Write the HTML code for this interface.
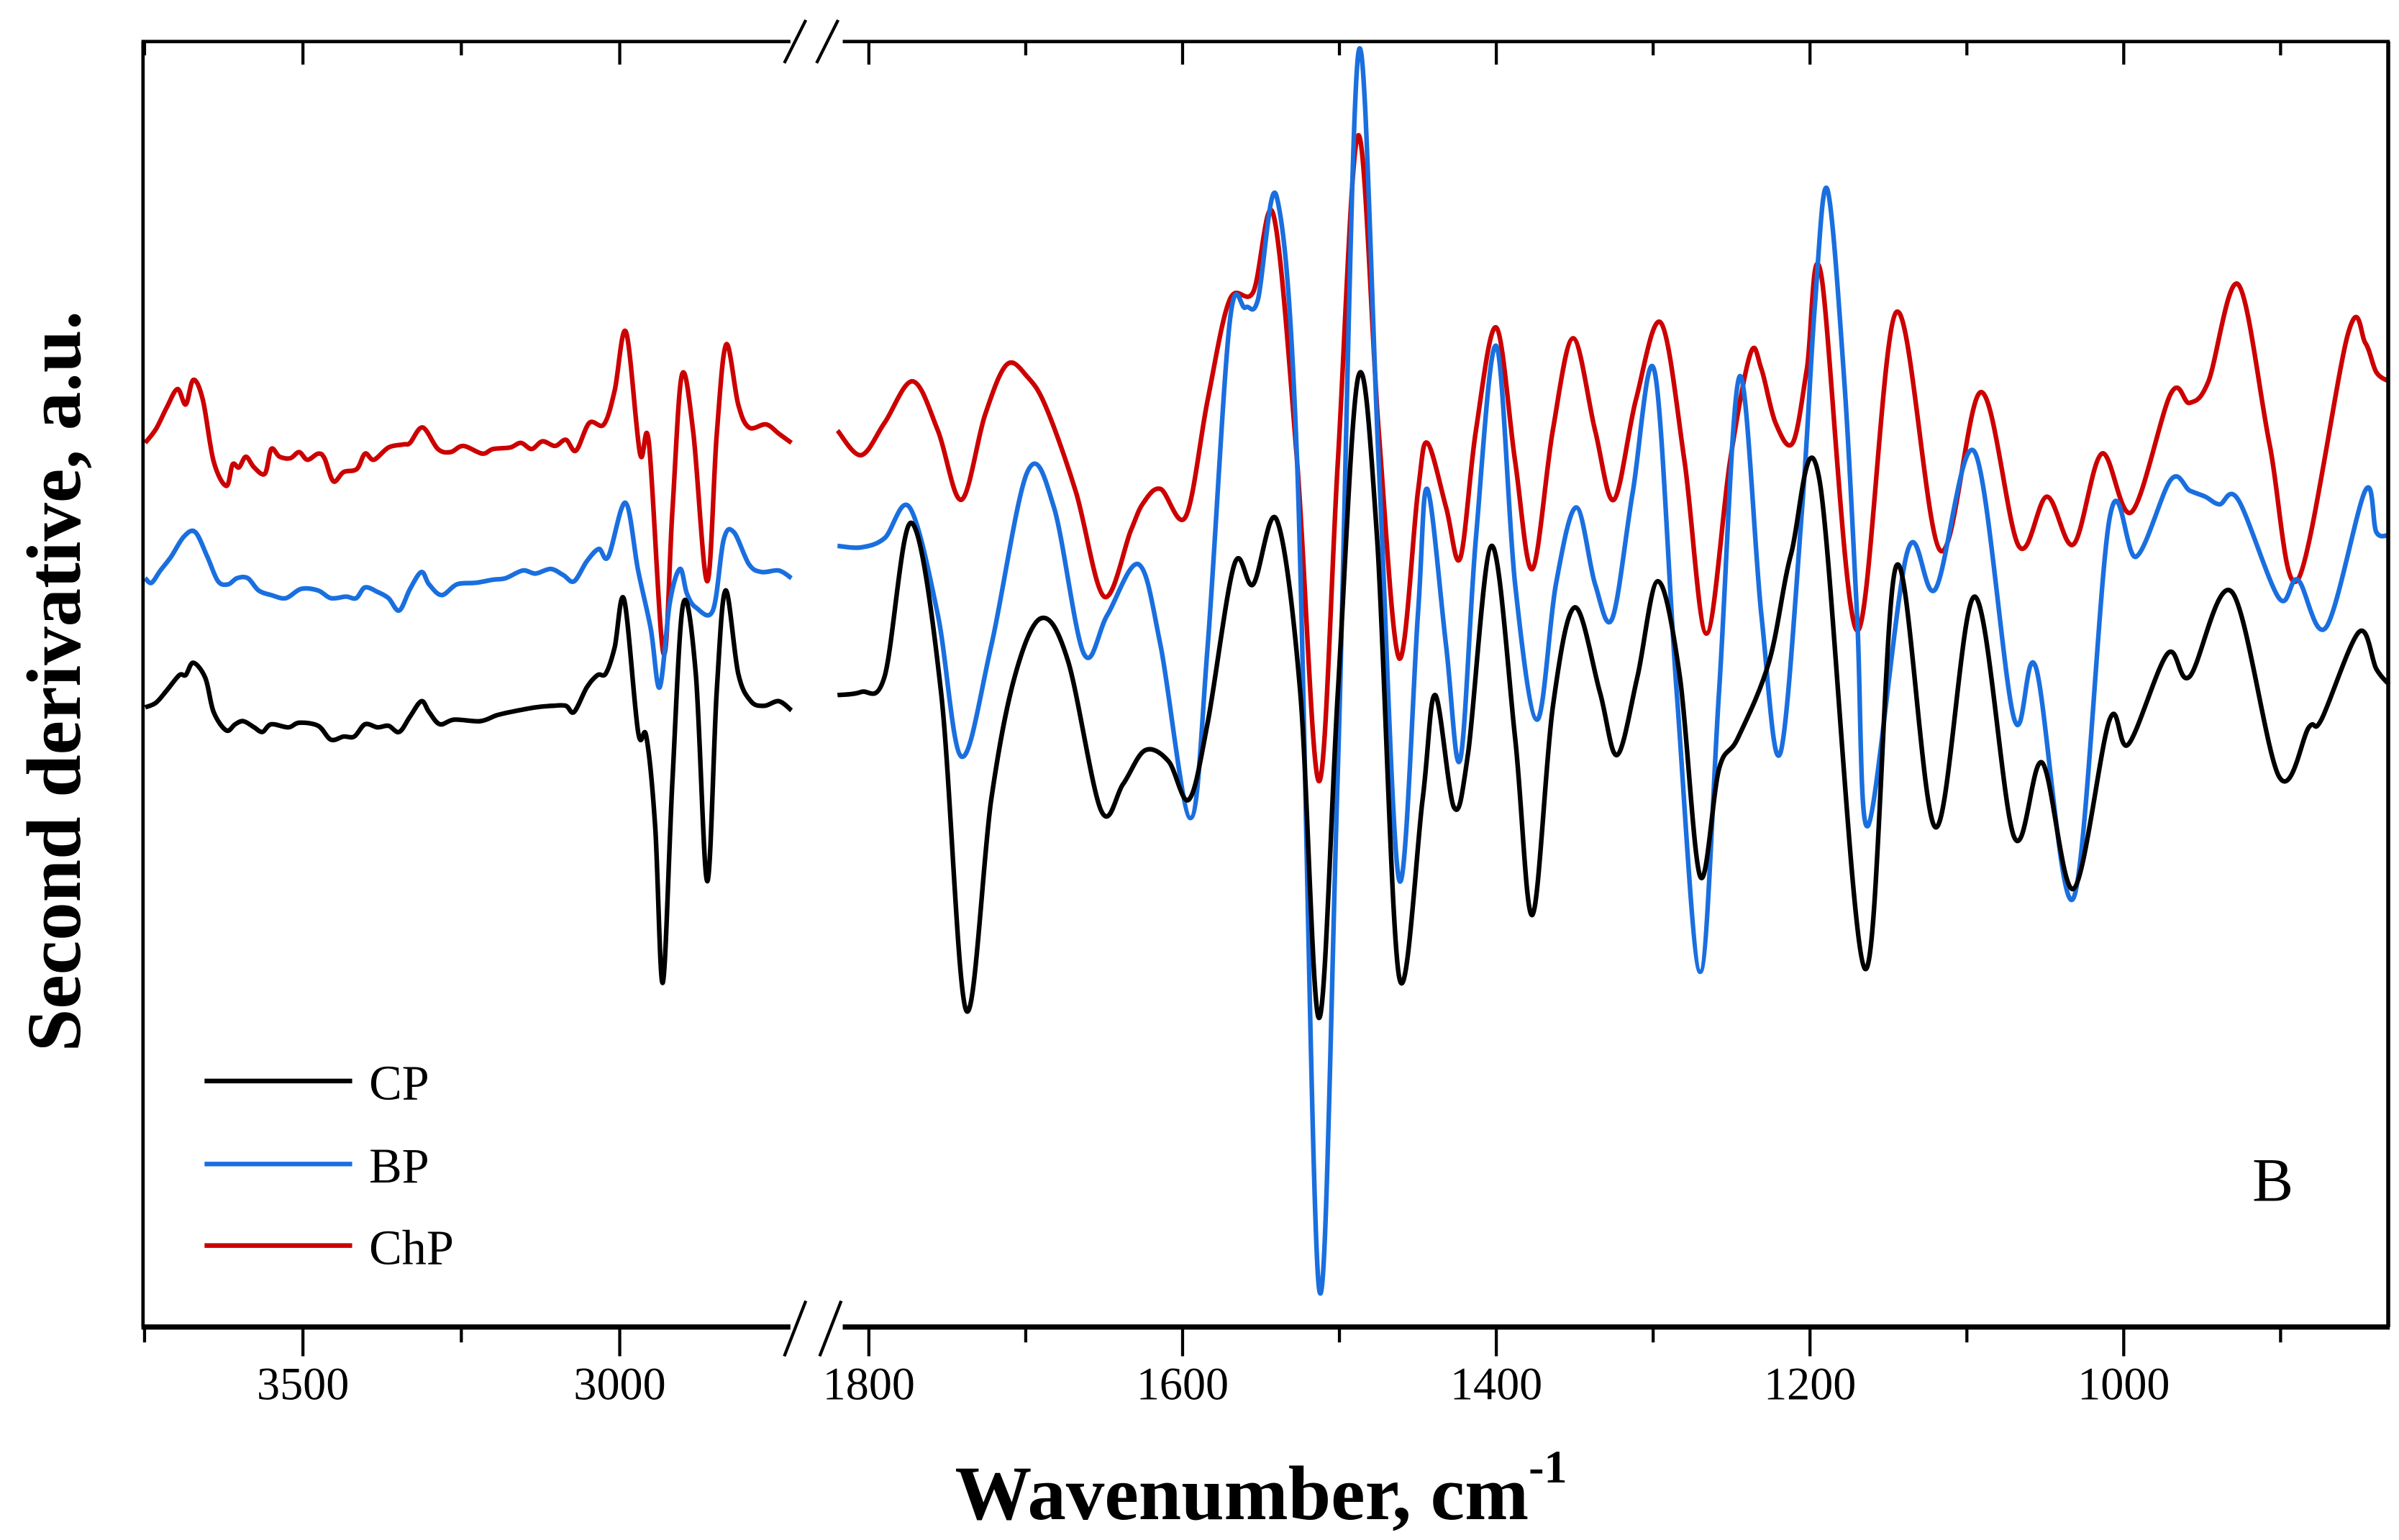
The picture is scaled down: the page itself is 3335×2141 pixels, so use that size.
<!DOCTYPE html>
<html><head><meta charset="utf-8">
<style>
html,body{margin:0;padding:0;background:#fff;}
svg{display:block;}
text{font-family:"Liberation Serif",serif;}
</style></head>
<body>
<svg id="chart" width="3335" height="2141" viewBox="0 0 1560 1001.5" preserveAspectRatio="none" xmlns="http://www.w3.org/2000/svg">
<g id="plot"></g>
<g id="axes"></g>
<text x="0" y="0" transform="translate(52,443) rotate(-90)" text-anchor="middle" font-size="50" font-weight="bold">Second derivative, a.u.</text>
<text x="820" y="988" text-anchor="middle" font-size="50" font-weight="bold">Wavenumber, cm<tspan font-size="30" dy="-24">-1</tspan></text>
<text x="1478" y="781" text-anchor="middle" font-size="40">B</text>
<g>
<line x1="133" y1="703" x2="229" y2="703" stroke="#000" stroke-width="3"/>
<text x="240" y="715" font-size="32">CP</text>
<line x1="133" y1="757" x2="229" y2="757" stroke="#1a6fdf" stroke-width="3"/>
<text x="240" y="769" font-size="32">BP</text>
<line x1="133" y1="810" x2="229" y2="810" stroke="#cc0000" stroke-width="3"/>
<text x="240" y="822" font-size="32">ChP</text>
</g>
</svg>
<script>
// ---- data (wavenumber cm-1, second derivative a.u.) ----
const cpLeftWn = [3749,3732,3715,3695,3685,3673,3654,3641,3621,3607,3594,3577,3564,3550,3523,3506,3476,3456,3436,3419,3402,3382,3365,3348,3331,3313,3301,3284,3261,3220,3193,3160,3133,3106,3085,3072,3052,3035,3022,3008,2993,2971,2958,2944,2932,2917,2900,2880,2862,2847,2833,2813,2793,2772,2749,2729];
const cpLeftVal = [403,406,414,424,424,432,422,400,388,392,394,390,387,392,390,393,391,382,384,384,392,390,391,387,397,407,400,392,395,394,398,401,403,404,404,400,416,424,425,442,473,387,384,325,224,354,470,425,290,413,479,425,407,404,407,401];
const bpLeftWn = [3749,3739,3725,3708,3688,3670,3651,3634,3618,3604,3587,3570,3550,3527,3503,3476,3456,3432,3416,3402,3382,3365,3348,3331,3313,3301,3281,3257,3227,3200,3180,3153,3133,3109,3089,3072,3052,3033,3018,2991,2971,2951,2937,2921,2905,2894,2880,2853,2836,2820,2796,2776,2749,2729];
const bpLeftVal = [487,484,492,501,514,517,501,485,483,487,487,479,476,474,480,479,474,475,474,481,478,474,466,480,491,483,476,483,484,486,487,492,490,493,489,485,498,506,501,536,492,454,416,471,493,477,468,466,512,517,496,491,492,487];
const chpLeftWn = [3749,3732,3715,3698,3685,3673,3658,3641,3621,3611,3601,3590,3577,3560,3550,3537,3520,3506,3493,3476,3466,3452,3436,3415,3402,3388,3365,3341,3331,3311,3287,3267,3247,3217,3200,3173,3156,3139,3122,3102,3085,3069,3048,3025,3008,2990,2968,2954,2931,2917,2902,2884,2862,2847,2832,2813,2796,2769,2749,2729];
const chpLeftVal = [575,584,598,610,600,616,603,563,547,561,559,566,559,555,571,566,565,569,564,568,565,550,556,558,568,564,572,574,575,585,571,569,573,568,571,572,575,571,576,573,577,570,588,587,609,647,568,575,438,530,619,582,485,580,639,600,585,587,581,575];

const cpRightWn = [1820,1805,1790,1773,1754,1738,1722,1707,1690,1673,1652,1638,1624,1609,1596,1584,1567,1555,1540,1525,1513,1501,1488,1476,1462,1447,1439,1427,1418,1403,1388,1377,1364,1350,1334,1323,1310,1297,1283,1270,1258,1246,1226,1212,1194,1165,1145,1120,1095,1070,1052,1032,1009,997,972,958,931,901,882,874,850,839,831];
const cpRightVal = [411,413,423,523,413,206,343,423,461,433,336,353,375,368,343,393,496,483,525,413,201,413,618,513,228,343,411,338,373,508,383,268,403,468,413,372,423,485,423,293,363,383,433,503,551,233,495,325,475,319,367,285,395,379,438,423,478,358,390,395,452,428,418];
const bpRightWn = [1820,1805,1790,1774,1756,1741,1722,1699,1682,1663,1648,1628,1614,1595,1584,1570,1560,1552,1540,1527,1513,1501,1488,1475,1462,1450,1444,1432,1423,1413,1400,1388,1374,1362,1349,1337,1326,1313,1299,1285,1270,1258,1245,1231,1219,1205,1197,1189,1178,1170,1163,1138,1120,1095,1070,1056,1032,1009,992,970,958,948,939,927,901,889,871,846,839,831];
const bpRightVal = [508,507,513,533,463,371,443,556,533,438,463,496,443,331,443,653,663,668,735,563,25,363,828,563,291,463,545,443,369,513,638,483,395,483,533,483,461,543,621,413,231,413,618,463,373,533,663,740,613,463,326,504,480,569,396,429,279,526,501,551,544,540,535,538,474,486,455,544,517,515];
const chpRightWn = [1820,1805,1790,1772,1756,1741,1726,1712,1699,1687,1668,1650,1633,1625,1614,1598,1584,1570,1555,1542,1527,1513,1501,1488,1475,1462,1450,1444,1432,1423,1413,1400,1388,1377,1364,1351,1337,1325,1311,1295,1280,1266,1251,1238,1231,1222,1211,1202,1193,1170,1145,1117,1091,1067,1049,1032,1014,995,970,958,946,927,907,889,857,846,839,831];
const chpRightVal = [583,567,588,615,583,538,593,626,618,598,543,475,518,536,545,527,603,668,673,723,563,355,563,775,583,435,543,575,533,500,583,650,563,493,583,643,583,538,603,653,563,451,563,633,623,588,575,623,685,453,660,505,608,508,540,509,568,530,607,601,615,678,574,486,646,640,621,615];

const leftTicks = [3500,3000];
const leftMinor = [3750,3250];
const rightTicks = [1800,1600,1400,1200,1000];
const rightMinor = [1700,1500,1300,1100,900];

// ---- axis functions (SVG units: 1560 x 1001.5) ----
const X0=93, X1=1553, Y0=27, Y1=863;
function xLeft(wn){ return 197 + (3500 - wn) * 0.412; }
function xRight(wn){ return 565 + (1800 - wn) * 1.02; }
function yScale(v){ return Y1 - v; }

const NS="http://www.w3.org/2000/svg";
const plot=document.getElementById('plot');
const axes=document.getElementById('axes');

function smoothPath(pts){
  let d="M"+pts[0][0].toFixed(2)+","+pts[0][1].toFixed(2);
  for(let i=0;i<pts.length-1;i++){
    const p0=pts[i-1]||pts[i], p1=pts[i], p2=pts[i+1], p3=pts[i+2]||p2;
    const t=1/6;
    const c1=[p1[0]+(p2[0]-p0[0])*t, p1[1]+(p2[1]-p0[1])*t];
    const c2=[p2[0]-(p3[0]-p1[0])*t, p2[1]-(p3[1]-p1[1])*t];
    d+=" C"+c1[0].toFixed(2)+","+c1[1].toFixed(2)+" "+c2[0].toFixed(2)+","+c2[1].toFixed(2)+" "+p2[0].toFixed(2)+","+p2[1].toFixed(2);
  }
  return d;
}
function drawSeries(wns, vals, xf, color, name){
  const pts=wns.map((w,i)=>[xf(w), yScale(vals[i])]);
  const p=document.createElementNS(NS,'path');
  p.setAttribute('d',smoothPath(pts));
  p.setAttribute('fill','none');
  p.setAttribute('stroke',color);
  p.setAttribute('stroke-width','3');
  p.setAttribute('stroke-linejoin','round');
  
  
  plot.appendChild(p);
}
drawSeries(chpLeftWn, chpLeftVal, xLeft, '#cc0000', 'chp-line-left');
drawSeries(bpLeftWn, bpLeftVal, xLeft, '#1a6fdf', 'bp-line-left');
drawSeries(cpLeftWn, cpLeftVal, xLeft, '#000000', 'cp-line-left');
drawSeries(chpRightWn, chpRightVal, xRight, '#cc0000', 'chp-line-right');
drawSeries(bpRightWn, bpRightVal, xRight, '#1a6fdf', 'bp-line-right');
drawSeries(cpRightWn, cpRightVal, xRight, '#000000', 'cp-line-right');

function line(x1,y1,x2,y2,w,name){
  const l=document.createElementNS(NS,'line');
  l.setAttribute('x1',x1);l.setAttribute('y1',y1);l.setAttribute('x2',x2);l.setAttribute('y2',y2);
  l.setAttribute('stroke','#000');l.setAttribute('stroke-width',w);
  
  
  axes.appendChild(l);
}
const BR0=514, BR1=548;
line(X0-1,Y1,BR0,Y1,3.4,'x-axis-bottom-left');
line(BR1,Y1,X1+1,Y1,3.4,'x-axis-bottom-right');
line(X0-1,Y0,BR0,Y0,2.2,'x-axis-top-left');
line(BR1,Y0,X1+1,Y0,2.2,'x-axis-top-right');
line(X0,Y0,X0,Y1,2.2,'y-axis-left');
line(X1,Y0,X1,Y1,2.6,'y-axis-right');
line(510,Y0+14,524,Y0-14,2,'axis-break-top-1');
line(531,Y0+14,545,Y0-14,2,'axis-break-top-2');
line(510,Y1+19,524,Y1-17,2,'axis-break-bottom-1');
line(533,Y1+19,547,Y1-17,2,'axis-break-bottom-2');

function tick(x,major,label,name){
  line(x,Y1,x,Y1+(major?19:10),2,name+'-bottom');
  line(x,Y0,x,Y0+(major?15:9),2,name+'-top');
  if(label!==null){
    const t=document.createElementNS(NS,'text');
    t.setAttribute('x',x);t.setAttribute('y',910);
    t.setAttribute('text-anchor','middle');t.setAttribute('font-size','30');
    t.textContent=label;
    
    
    axes.appendChild(t);
  }
}
leftTicks.forEach(v=>tick(xLeft(v),true,String(v),'x-tick'));
leftMinor.forEach(v=>tick(xLeft(v),false,null,'x-minor-tick'));
rightTicks.forEach(v=>tick(xRight(v),true,String(v),'x-tick'));
rightMinor.forEach(v=>tick(xRight(v),false,null,'x-minor-tick'));
</script>
</body></html>
